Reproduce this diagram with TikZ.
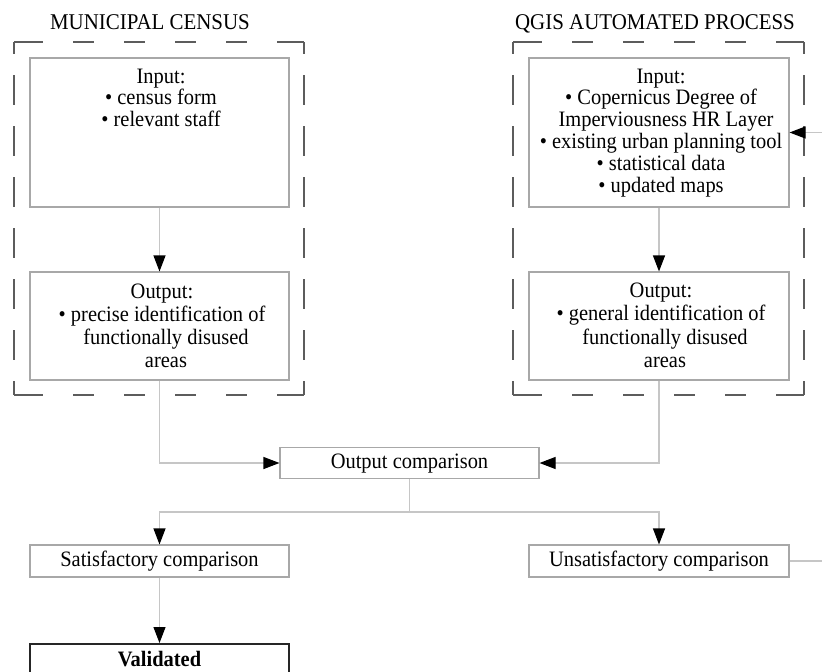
\documentclass[tikz,border=0pt]{standalone}
\usepackage{fontspec}
\setmainfont{Liberation Serif}[FakeStretch=0.93]
\usetikzlibrary{arrows.meta}
\definecolor{boxgray}{HTML}{A8A8A8}
\definecolor{conn}{HTML}{C6C6C6}
\definecolor{dashc}{HTML}{5C5C5C}
\begin{document}
\begin{tikzpicture}[x=1pt,y=-1pt,
  box/.style={draw=boxgray, line width=1.1pt, inner sep=0pt, minimum width=259pt},
  onebox/.style={box, minimum height=31pt, font=\fontsize{22}{23}\selectfont, text height=15pt, text depth=4pt},
  lbl/.style={font=\fontsize{22}{21.8}\selectfont, align=center, inner sep=0pt, anchor=north},
  olbl/.style={lbl, font=\fontsize{22}{23.2}\selectfont},
  ttl/.style={font=\fontsize{22.5}{23}\selectfont, inner sep=0pt, anchor=base},
  arr/.style={draw=conn, line width=1.1pt, -{Triangle[length=16pt,width=12pt,black]}},
  plain/.style={draw=conn, line width=1.1pt},
  hdash/.style={draw=dashc, line width=1.3pt, dash pattern=on 29pt off 30pt on 21pt off 30pt on 21pt off 30pt on 21pt off 30pt on 21pt off 30pt on 40pt},
  vdash/.style={draw=dashc, line width=1.3pt, dash pattern=on 12pt off 21pt on 30pt off 21pt on 30pt off 21pt on 30pt off 21pt on 30pt off 21pt on 30pt off 21pt on 30pt off 21pt on 20pt}
]
\useasboundingbox (0,0) rectangle (822,672);
\clip (0,0) rectangle (822,672);

% titles
\node[ttl] (ttlL) at (150,29) {MUNICIPAL CENSUS};
\node[ttl] (ttlR) at (655,29) {QGIS AUTOMATED PROCESS};

% dashed groups
\draw[hdash] (14,42) -- (304,42);
\draw[hdash] (14,395) -- (304,395);
\draw[vdash] (14,42) -- (14,395);
\draw[vdash] (304,42) -- (304,395);
\draw[hdash] (513,42) -- (804,42);
\draw[hdash] (513,395) -- (804,395);
\draw[vdash] (513,42) -- (513,395);
\draw[vdash] (804,42) -- (804,395);

% boxes
\node[box, minimum height=149pt] (in1) at (159.5,132.5) {};
\node[box, minimum height=108pt] (out1) at (159.5,326) {};
\node[box, minimum width=260pt, minimum height=149pt] (in2) at (659,132.5) {};
\node[box, minimum width=260pt, minimum height=108pt] (out2) at (659,326) {};

\node[lbl] (in1t) at (161,68.4) {Input:\\ • census form\\ • relevant staff};
\node[lbl] (in2t) at (661,68.4) {Input:\\ • Copernicus Degree of\\ \hspace*{10pt}Imperviousness HR Layer\\ • existing urban planning tool\\ • statistical data\\ • updated maps};
\node[olbl] (out1t) at (162,283.5) {Output:\\ • precise identification of\\ \hspace*{8pt}functionally disused\\ \hspace*{8pt}areas};
\node[olbl] (out2t) at (661,283) {Output:\\ • general identification of\\ \hspace*{8pt}functionally disused\\ \hspace*{8pt}areas};

\node[onebox] (oc) at (409.5,463) {Output comparison};
\node[onebox, minimum height=32pt] (sat) at (159.5,561) {Satisfactory comparison};
\node[onebox, minimum width=260pt, minimum height=32pt] (unsat) at (659,561) {Unsatisfactory comparison};
\node[box, draw=black!85, line width=1.5pt, anchor=north, inner ysep=8pt, font=\fontsize{22}{23}\selectfont\bfseries, text height=15pt, text depth=12pt] (val) at (159.5,643) {Validated};

% connectors
\draw[arr] (in1.south) -- (out1.north);
\draw[arr] (in2.south) -- (out2.north);
\draw[arr] (out1.south) |- (oc.west);
\draw[arr] (out2.south) |- (oc.east);
\coordinate (split) at (409.5,512);
\draw[plain] (oc.south) -- (split);
\draw[arr] (split) -| (sat.north);
\draw[arr] (split) -| (unsat.north);
\draw[arr] (sat.south) -- (val.north);
\coordinate (fbA) at (850,561);
\coordinate (fbB) at (850,132.5);
\draw[arr] (unsat.east) -- (fbA) -- (fbB) -- (in2.east);
\end{tikzpicture}
\end{document}
